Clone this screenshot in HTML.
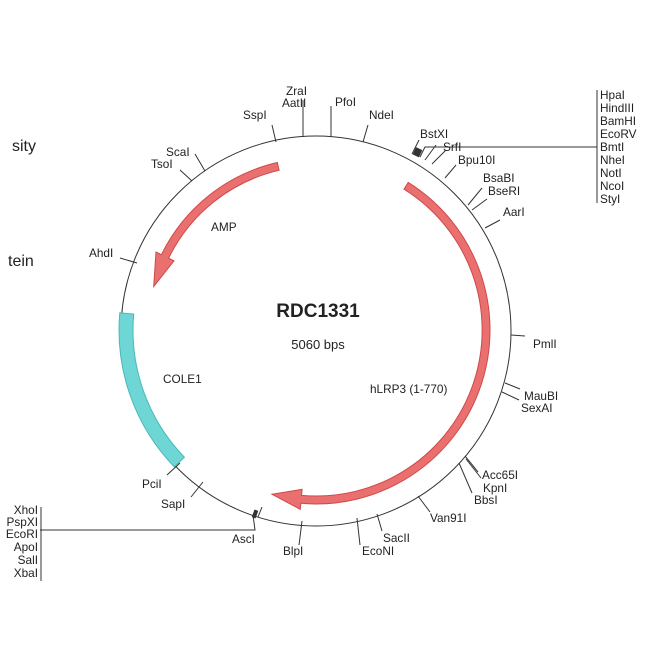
<!DOCTYPE html>
<html><head><meta charset="utf-8"><style>
html,body{margin:0;padding:0;background:#fff;}
svg{display:block;}
text{font-family:"Liberation Sans",Arial,sans-serif;font-size:11.8px;fill:#222;}
</style></head><body>
<svg width="650" height="650" viewBox="0 0 650 650" xmlns="http://www.w3.org/2000/svg">
<text x="12" y="151" style="font-size:16px">sity</text>
<text x="8" y="266" style="font-size:16px">tein</text>
<circle cx="316" cy="331" r="195" fill="none" stroke="#333" stroke-width="1"/>
<path d="M174.3,466.9 A197,197 0 0 1 119.8,312.8 L133.7,314.1 A183,183 0 0 0 184.4,457.2 Z" fill="#6fd6d6" stroke="#4ab8b8" stroke-width="1"/>
<path d="M277.3,162.5 A172,172 0 0 0 161.4,254.7 L156,252 L153.7,286.5 L174,260.8 L168.6,258.2 A164,164 0 0 1 279.1,170.3 Z" fill="#ea7070" stroke="#d04848" stroke-width="1"/>
<path d="M408.2,182.4 A174,174 0 0 1 300.8,503.3 L300.3,509.3 L272,494.2 L302.1,489.4 L301.5,495.4 A166,166 0 0 0 404,189.2 Z" fill="#ea7070" stroke="#d04848" stroke-width="1"/>
<g stroke="#333" stroke-width="1" fill="none">
<line x1="303" y1="137" x2="303" y2="100"/>
<line x1="276" y1="142" x2="272" y2="125"/>
<line x1="331" y1="137" x2="331" y2="106"/>
<line x1="363" y1="142" x2="368" y2="125"/>
<line x1="412" y1="154" x2="419" y2="140"/>
<polyline points="420,157 425,147 597,147"/>
<line x1="425" y1="160" x2="436" y2="145"/>
<line x1="432" y1="164" x2="446" y2="150"/>
<line x1="445" y1="178" x2="456" y2="165"/>
<line x1="468" y1="205" x2="482" y2="188"/>
<line x1="472" y1="210" x2="487" y2="199"/>
<line x1="485" y1="228" x2="500" y2="220"/>
<line x1="597" y1="90" x2="597" y2="203"/>
<line x1="511" y1="335" x2="525" y2="336"/>
<line x1="505" y1="383" x2="520" y2="389"/>
<line x1="502" y1="392" x2="519" y2="400"/>
<line x1="465" y1="456" x2="478" y2="472"/>
<line x1="466" y1="459" x2="481" y2="478"/>
<line x1="459" y1="463" x2="472" y2="493"/>
<line x1="418" y1="496" x2="430" y2="512"/>
<line x1="377" y1="514" x2="382" y2="531"/>
<line x1="357" y1="518" x2="360" y2="545"/>
<line x1="302" y1="521" x2="299" y2="545"/>
<line x1="258" y1="517" x2="262" y2="507"/>
<polyline points="253,515 255,530 40,530"/>
<line x1="41" y1="507" x2="41" y2="581"/>
<line x1="203" y1="482" x2="191" y2="497"/>
<line x1="180" y1="463" x2="167" y2="475"/>
<line x1="137" y1="263" x2="120" y2="258"/>
<line x1="205" y1="171" x2="195" y2="154"/>
<line x1="192" y1="181" x2="180" y2="170"/>
</g>
<rect x="414" y="148" width="7" height="8" fill="#333" transform="rotate(25 417 152)"/>
<rect x="253" y="510" width="4" height="8" fill="#333" transform="rotate(20 255 514)"/>
<text x="286" y="95">ZraI</text>
<text x="282" y="107">AatII</text>
<text x="243" y="119">SspI</text>
<text x="335" y="106">PfoI</text>
<text x="369" y="119">NdeI</text>
<text x="420" y="138">BstXI</text>
<text x="443" y="151">SrfI</text>
<text x="458" y="164">Bpu10I</text>
<text x="483" y="182">BsaBI</text>
<text x="488" y="195">BseRI</text>
<text x="503" y="216">AarI</text>
<text x="600" y="99">HpaI</text>
<text x="600" y="112">HindIII</text>
<text x="600" y="125">BamHI</text>
<text x="600" y="138">EcoRV</text>
<text x="600" y="151">BmtI</text>
<text x="600" y="164">NheI</text>
<text x="600" y="177">NotI</text>
<text x="600" y="190">NcoI</text>
<text x="600" y="203">StyI</text>
<text x="533" y="348">PmlI</text>
<text x="524" y="400">MauBI</text>
<text x="521" y="412">SexAI</text>
<text x="482" y="479">Acc65I</text>
<text x="483" y="492">KpnI</text>
<text x="474" y="504">BbsI</text>
<text x="430" y="522">Van91I</text>
<text x="383" y="542">SacII</text>
<text x="362" y="555">EcoNI</text>
<text x="283" y="555">BlpI</text>
<text x="232" y="543">AscI</text>
<g text-anchor="end">
<text x="38" y="514">XhoI</text>
<text x="38" y="526">PspXI</text>
<text x="38" y="538">EcoRI</text>
<text x="38" y="551">ApoI</text>
<text x="38" y="564">SalI</text>
<text x="38" y="577">XbaI</text>
</g>
<text x="161" y="508">SapI</text>
<text x="142" y="488">PciI</text>
<text x="89" y="257">AhdI</text>
<text x="166" y="156">ScaI</text>
<text x="151" y="168">TsoI</text>
<text x="211" y="231">AMP</text>
<text x="163" y="383">COLE1</text>
<text x="370" y="393">hLRP3 (1-770)</text>
<text x="318" y="317" text-anchor="middle" style="font-size:19px;font-weight:bold">RDC1331</text>
<text x="318" y="349" text-anchor="middle" style="font-size:13px">5060 bps</text>
</svg>
</body></html>
